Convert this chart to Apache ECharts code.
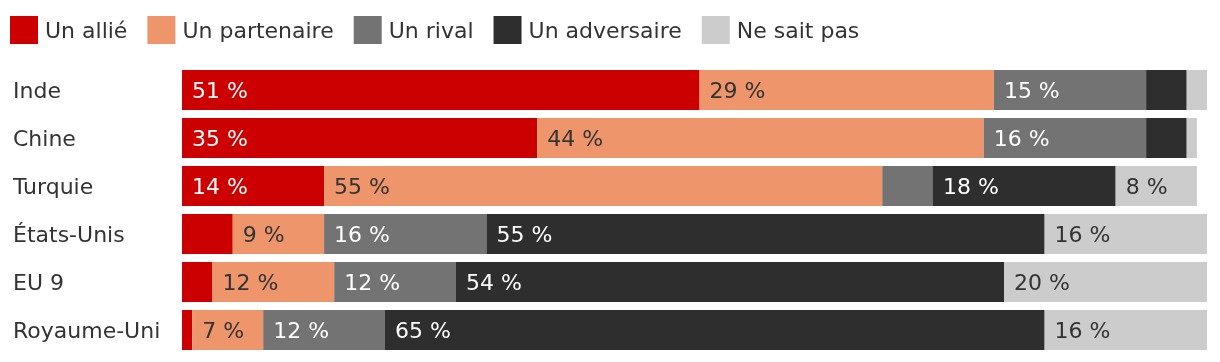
<!DOCTYPE html>
<html><head><meta charset="utf-8">
<script src="https://cdn.jsdelivr.net/npm/echarts@6/dist/echarts.min.js"></script>
<style>html,body{margin:0;padding:0;background:#fff}#c{width:1220px;height:362px}</style>
</head><body><div id="c"></div>
<script>
const categories = ["Inde", "Chine", "Turquie", "États-Unis", "EU 9", "Royaume-Uni"];
const seriesNames = ["Un allié", "Un partenaire", "Un rival", "Un adversaire", "Ne sait pas"];
const allie = [51, 35, 14, 5, 3, 1];
const partenaire = [29, 44, 55, 9, 12, 7];
const rival = [15, 16, 5, 16, 12, 12];
const adversaire = [4, 4, 18, 55, 54, 65];
const nsp = [2, 1, 8, 16, 20, 16];
const colors = ["#cc0000", "#ee956b", "#737373", "#2e2e2e", "#cccccc"];
const labelColors = ["#ffffff", "#333333", "#ffffff", "#ffffff", "#333333"];
const values = [allie, partenaire, rival, adversaire, nsp];
const FONT = "DejaVu Sans";

const chart = echarts.init(document.getElementById('c'), null, {renderer: 'canvas'});
chart.setOption({
  animation: false,
  textStyle: {fontFamily: FONT},
  legend: {
    left: 10, top: 16, padding: 0, itemWidth: 28, itemHeight: 28, itemGap: 20,
    icon: 'rect',
    formatter: name => '{a|' + name + '}',
    textStyle: {
      fontFamily: FONT, fontSize: 22, color: '#333', padding: [0, 0, 0, 2],
      rich: {a: {fontFamily: FONT, fontSize: 22, color: '#333', padding: [4, 0, 0, 0]}}
    },
    data: seriesNames
  },
  grid: {left: 182, right: 13, top: 66, bottom: 8, containLabel: false},
  xAxis: {type: 'value', min: 0, max: 101, show: false},
  yAxis: {
    type: 'category', data: categories, inverse: true,
    axisLine: {show: false}, axisTick: {show: false},
    axisLabel: {
      align: 'left', margin: 169, fontFamily: FONT, fontSize: 22, color: '#333',
      formatter: v => '{a|' + v + '}',
      rich: {a: {fontFamily: FONT, fontSize: 22, color: '#333', padding: [4, 0, 0, 0]}}
    }
  },
  series: values.map((v, i) => ({
    name: seriesNames[i], type: 'bar', stack: 'total', barWidth: 40,
    data: v,
    itemStyle: {color: colors[i]},
    label: {
      show: true, position: 'insideLeft', distance: 10, offset: [0, 2],
      fontFamily: FONT, fontSize: 22, color: labelColors[i],
      formatter: p => p.value >= 7 ? p.value + ' %' : ''
    }
  }))
});
</script></body></html>
